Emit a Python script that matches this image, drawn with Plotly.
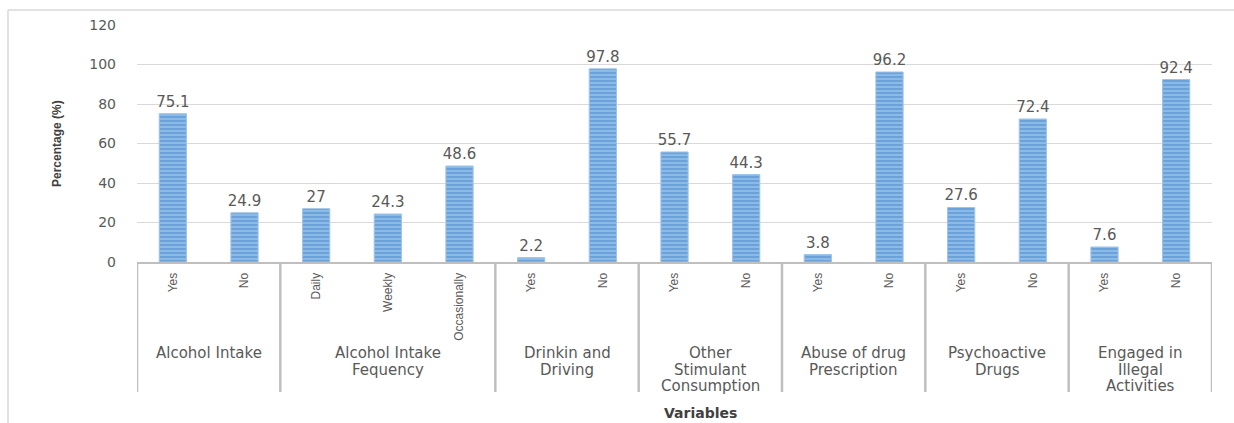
import plotly.graph_objects as go

# ---- data ----
groups = ["Alcohol Intake", "Alcohol Intake\nFequency", "Drinkin and\nDriving",
          "Other\nStimulant\nConsumption", "Abuse of drug\nPrescription",
          "Psychoactive\nDrugs", "Engaged in\nIllegal\nActivities"]
sub_labels = [["Yes", "No"], ["Daily", "Weekly", "Occasionally"], ["Yes", "No"],
              ["Yes", "No"], ["Yes", "No"], ["Yes", "No"], ["Yes", "No"]]
values = [[75.1, 24.9], [27, 24.3, 48.6], [2.2, 97.8], [55.7, 44.3],
          [3.8, 96.2], [27.6, 72.4], [7.6, 92.4]]
y_ticks = [0, 20, 40, 60, 80, 100, 120]
y_title = "Percentage (%)"
x_title = "Variables"

# flatten
xs, ticktext, ys = [], [], []
group_bounds = []
i = 0
for labs, vals in zip(sub_labels, values):
    start = i
    for l, v in zip(labs, vals):
        xs.append(i)
        ticktext.append(l)
        ys.append(v)
        i += 1
    group_bounds.append((start, i - 1))

W, H = 1234, 423
ml, mr, mt, mb = 137, 22, 25, 161
pw, ph = W - ml - mr, H - mt - mb

def px_x(p):
    return (p - ml) / pw

def px_y(p):
    return (H - mb - p) / ph

grey_text = "#595959"
fig = go.Figure()
fig.add_trace(go.Bar(
    x=xs, y=ys, width=0.38,
    marker=dict(color="#5b9bd5",
                line=dict(color="#9dc3e6", width=1),
                pattern=dict(shape="-", bgcolor="#6aa3dc", fgcolor="#cfe1f5",
                             size=4, solidity=0.35)),
    text=[f"{v:g}" for v in ys], textposition="outside", cliponaxis=False,
    constraintext="none",
    textfont=dict(family="DejaVu Sans", size=15, color=grey_text),
    hoverinfo="skip",
))

shapes = []
# group dividers
divs = [group_bounds[0][0] - 0.5] + [b[1] + 0.5 for b in group_bounds]
for d in divs:
    shapes.append(dict(type="line", xref="x", yref="paper", x0=d, x1=d,
                       y0=0, y1=px_y(392), line=dict(color="#bfbfbf", width=2.5)))
# outer frame (left and top)
shapes.append(dict(type="line", xref="paper", yref="paper", x0=px_x(8), x1=px_x(8),
                   y0=px_y(423), y1=px_y(10), line=dict(color="#d9d9d9", width=1.5)))
shapes.append(dict(type="line", xref="paper", yref="paper", x0=px_x(8), x1=px_x(1234),
                   y0=px_y(10), y1=px_y(10), line=dict(color="#d9d9d9", width=1.5)))

annotations = []
for g, (s, e) in zip(groups, group_bounds):
    lines = g.split("\n")
    for k, ln in enumerate(lines):
        annotations.append(dict(x=(s + e) / 2, xref="x", y=px_y(353 + k * 16.5), yref="paper",
                                text=ln, showarrow=False, xanchor="center", yanchor="middle",
                                font=dict(family="DejaVu Sans", size=15, color=grey_text)))
annotations.append(dict(x=px_x(57), xref="paper", y=px_y(144), yref="paper", text=y_title,
                        textangle=-90, showarrow=False, xanchor="center", yanchor="middle",
                        font=dict(family="Liberation Sans", size=12, color="#404040",
                                  weight="bold")))
annotations.append(dict(x=px_x(700), xref="paper", y=px_y(413), yref="paper", text=x_title,
                        showarrow=False, xanchor="center", yanchor="middle",
                        font=dict(family="DejaVu Sans", size=14, color="#404040", weight="bold")))

fig.update_layout(
    width=W, height=H, margin=dict(l=ml, r=mr, t=mt, b=mb),
    paper_bgcolor="white", plot_bgcolor="white", showlegend=False,
    shapes=shapes, annotations=annotations, bargap=0.5,
)
fig.update_xaxes(
    range=[-0.5, len(xs) - 0.5], tickmode="array", tickvals=xs, ticktext=ticktext,
    tickangle=-90, showgrid=False, zeroline=False, showline=True, linecolor="#bfbfbf",
    linewidth=2, ticks="", ticklabelstandoff=4,
    tickfont=dict(family="Liberation Sans", size=12, color=grey_text),
)
fig.update_yaxes(
    range=[0, 120], tickmode="array", tickvals=y_ticks, showgrid=True, gridcolor="#d9d9d9",
    gridwidth=1, zeroline=False, showline=False, ticks="", ticklabelstandoff=20,
    tickfont=dict(family="DejaVu Sans", size=14, color=grey_text),
)
fig.write_html("out.html")
